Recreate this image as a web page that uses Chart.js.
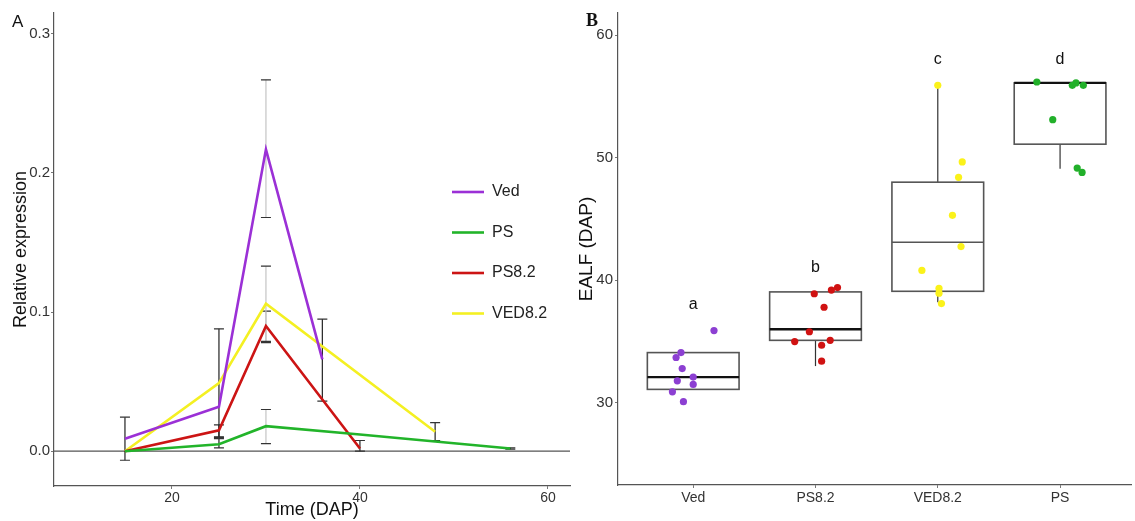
<!DOCTYPE html>
<html>
<head>
<meta charset="utf-8">
<script src="https://cdn.jsdelivr.net/npm/chart.js@4.4.1/dist/chart.umd.min.js"></script>
<style>
html, body { margin: 0; padding: 0; background: #fff; }
#wrap { position: relative; width: 1135px; height: 521px; font-family: "Liberation Sans", Arial, sans-serif; }
#boxA { position: absolute; left: 0; top: 0; width: 580px; height: 521px; }
#boxB { position: absolute; left: 575px; top: 0; width: 560px; height: 521px; }
</style>
</head>
<body>
<div id="wrap">
  <div id="boxA"><canvas id="chartA"></canvas></div>
  <div id="boxB"><canvas id="chartB"></canvas></div>
</div>
<script>
// ---- panel A: relative expression over time (DAP)
const vedDays = [15, 25, 30, 36]
const vedExpr = [0.009, 0.032, 0.217, 0.066]
const vedLow  = [-0.0065, null, 0.168, 0.036]
const vedHigh = [0.0245, null, 0.267, 0.095]

const psDays = [15, 25, 30, 40, 48, 56]
const psExpr = [0.000, 0.005, 0.018, 0.012, 0.007, 0.002]
const psLow  = [null, 0.0024, 0.0055, null, null, 0.0015]
const psHigh = [null, 0.009, 0.030, null, null, 0.0025]

const ps82Days = [15, 25, 30, 40]
const ps82Expr = [0.000, 0.015, 0.090, 0.002]
const ps82Low  = [null, 0.0103, 0.078, 0.000]
const ps82High = [null, 0.019, 0.1007, 0.0077]

const ved82Days = [15, 25, 30, 48]
const ved82Expr = [0.000, 0.049, 0.106, 0.014]
const ved82Low  = [null, 0.010, 0.079, 0.0077]
const ved82High = [null, 0.088, 0.133, 0.0206]

const timeTicks = [20, 40, 60]
const exprTicks = [0, 0.1, 0.2, 0.3]

// ---- panel B: EALF (DAP) per line
const lines = ['Ved', 'PS8.2', 'VED8.2', 'PS']
const boxLow    = [31.1, 33.0, 38.2, 49.1]   // whisker ends
const boxQ1     = [31.1, 35.1, 39.1, 51.1]
const boxMedian = [32.1, 36.0, 43.1, 56.1]
const boxQ3     = [34.1, 39.05, 48.0, 56.1]
const boxHigh   = [34.1, 39.05, 55.9, 56.1]
const sigLetters = ['a', 'b', 'c', 'd']
const sigY = [38.0, 41.0, 58.0, 58.0]

const vedEalf = [35.9, 34.1, 33.7, 32.8, 32.1, 31.8, 31.5, 30.9, 30.1]
const vedJit  = [0.17, -0.10, -0.14, -0.09, 0.0, -0.13, 0.0, -0.17, -0.08]
const ps82Ealf = [38.9, 39.2, 39.4, 37.8, 35.8, 35.0, 35.1, 34.7, 33.4]
const ps82Jit  = [-0.01, 0.13, 0.18, 0.07, -0.05, -0.17, 0.12, 0.05, 0.05]
const ved82Ealf = [55.9, 49.65, 48.4, 45.3, 42.75, 40.8, 39.35, 38.95, 38.1]
const ved82Jit  = [0.0, 0.20, 0.17, 0.12, 0.19, -0.13, 0.01, 0.01, 0.03]
const psEalf = [56.17, 55.9, 56.1, 55.9, 53.1, 49.15, 48.8]
const psJit  = [-0.19, 0.10, 0.13, 0.19, -0.06, 0.14, 0.18]

const ealfTicks = [30, 40, 50, 60]

// colours
const purple = '#9b30d6'
const green = '#22b42a'
const red = '#cc1414'
const yellow = '#f4f022'
const axisCol = '#555'
const font = '"Liberation Sans", Arial, sans-serif'

// tick marks only, no grid lines
const tickOnly = {display: true, drawOnChartArea: false, drawTicks: true, tickLength: 3, color: '#777'}

const seriesA = [
  {name: 'Ved', days: vedDays, y: vedExpr, lo: vedLow, hi: vedHigh, color: purple},
  {name: 'PS', days: psDays, y: psExpr, lo: psLow, hi: psHigh, color: green},
  {name: 'PS8.2', days: ps82Days, y: ps82Expr, lo: ps82Low, hi: ps82High, color: red},
  {name: 'VED8.2', days: ved82Days, y: ved82Expr, lo: ved82Low, hi: ved82High, color: yellow}
]
const greyBarDays = [30]

const extrasA = {
  id: 'extrasA',
  beforeDatasetsDraw(chart){
    const ctx = chart.ctx
    const xs = chart.scales.x, ys = chart.scales.y
    const area = chart.chartArea
    ctx.save()
    // zero line
    ctx.strokeStyle = axisCol
    ctx.lineWidth = 1.2
    ctx.beginPath()
    ctx.moveTo(area.left, ys.getPixelForValue(0))
    ctx.lineTo(area.right, ys.getPixelForValue(0))
    ctx.stroke()
    // error bars
    seriesA.forEach(s => {
      s.days.forEach((d, i) => {
        if(s.lo[i] == null) return
        const px = xs.getPixelForValue(d)
        const p1 = ys.getPixelForValue(s.lo[i])
        const p2 = ys.getPixelForValue(s.hi[i])
        ctx.strokeStyle = greyBarDays.includes(d) ? '#c4c4c4' : '#222'
        ctx.lineWidth = 1.2
        ctx.beginPath()
        ctx.moveTo(px, p1)
        ctx.lineTo(px, p2)
        ctx.stroke()
        ctx.strokeStyle = '#333'
        ctx.beginPath()
        ctx.moveTo(px - 5, p1); ctx.lineTo(px + 5, p1)
        ctx.moveTo(px - 5, p2); ctx.lineTo(px + 5, p2)
        ctx.stroke()
      })
    })
    ctx.restore()
  },
  afterDraw(chart){
    const ctx = chart.ctx
    ctx.save()
    // legend
    ctx.font = '16px ' + font
    ctx.textBaseline = 'middle'
    seriesA.forEach((s, i) => {
      const y = 192 + i * 40.5
      ctx.strokeStyle = s.color
      ctx.lineWidth = 2.6
      ctx.beginPath()
      ctx.moveTo(452, y)
      ctx.lineTo(484, y)
      ctx.stroke()
      ctx.fillStyle = '#222'
      ctx.fillText(s.name, 492, y)
    })
    // panel letter
    ctx.font = '17px ' + font
    ctx.fillStyle = '#111'
    ctx.fillText('A', 12, 22)
    ctx.restore()
  }
}

new Chart(document.getElementById('chartA'), {
  type: 'scatter',
  data: {
    datasets: seriesA.map(s => ({
      label: s.name,
      data: s.days.map((d, i) => ({x: d, y: s.y[i]})),
      showLine: true,
      borderColor: s.color,
      backgroundColor: s.color,
      borderWidth: 2.6,
      pointRadius: 0,
      tension: 0
    }))
  },
  options: {
    responsive: true,
    maintainAspectRatio: false,
    animation: false,
    layout: {padding: {top: 13, right: 10, left: 0, bottom: 0}},
    plugins: {legend: {display: false}, tooltip: {enabled: false}},
    scales: {
      x: {
        type: 'linear', min: 7.45, max: 62.35,
        afterBuildTicks: s => { s.ticks = timeTicks.map(v => ({value: v})) },
        afterFit: s => { s.height = 35 },
        grid: tickOnly,
        border: {color: axisCol, width: 1.2},
        ticks: {color: '#333', font: {size: 14, family: font}, padding: 1},
        title: {display: true, text: 'Time (DAP)', color: '#111', font: {size: 18, family: font}, padding: 0}
      },
      y: {
        min: -0.025, max: 0.315,
        afterBuildTicks: s => { s.ticks = exprTicks.map(v => ({value: v})) },
        afterFit: s => { s.width = 54 },
        grid: tickOnly,
        border: {color: axisCol, width: 1.2},
        ticks: {color: '#333', font: {size: 15, family: font}, padding: 1, callback: v => v.toFixed(1)},
        title: {display: true, text: 'Relative expression', color: '#111', font: {size: 18, family: font}, padding: {top: 10, bottom: 0}}
      }
    }
  },
  plugins: [extrasA]
})

// ---- panel B
const pointsB = [
  {y: vedEalf, jit: vedJit, color: '#8c3fd2'},
  {y: ps82Ealf, jit: ps82Jit, color: '#d01212'},
  {y: ved82Ealf, jit: ved82Jit, color: '#fbf21a'},
  {y: psEalf, jit: psJit, color: '#22b02a'}
]
const thickMedian = [true, true, false, true]

const boxesB = {
  id: 'boxesB',
  beforeDatasetsDraw(chart){
    const ctx = chart.ctx
    const xs = chart.scales.x, ys = chart.scales.y
    ctx.save()
    lines.forEach((name, i) => {
      const xl = xs.getPixelForValue(i - 0.375)
      const xr = xs.getPixelForValue(i + 0.375)
      const xc = xs.getPixelForValue(i)
      const q1 = ys.getPixelForValue(boxQ1[i])
      const q3 = ys.getPixelForValue(boxQ3[i])
      // whiskers
      ctx.strokeStyle = '#333'
      ctx.lineWidth = 1.2
      ctx.beginPath()
      ctx.moveTo(xc, q1); ctx.lineTo(xc, ys.getPixelForValue(boxLow[i]))
      ctx.moveTo(xc, q3); ctx.lineTo(xc, ys.getPixelForValue(boxHigh[i]))
      ctx.stroke()
      // box
      ctx.fillStyle = '#fff'
      ctx.fillRect(xl, q3, xr - xl, q1 - q3)
      ctx.strokeStyle = '#555'
      ctx.lineWidth = 1.6
      ctx.strokeRect(xl, q3, xr - xl, q1 - q3)
      // median
      const m = ys.getPixelForValue(boxMedian[i])
      ctx.strokeStyle = thickMedian[i] ? '#111' : '#555'
      ctx.lineWidth = thickMedian[i] ? 2.4 : 1.6
      ctx.beginPath()
      ctx.moveTo(xl, m); ctx.lineTo(xr, m)
      ctx.stroke()
    })
    ctx.restore()
  },
  afterDraw(chart){
    const ctx = chart.ctx
    const xs = chart.scales.x, ys = chart.scales.y
    ctx.save()
    ctx.fillStyle = '#111'
    ctx.font = '16px ' + font
    ctx.textAlign = 'center'
    ctx.textBaseline = 'middle'
    sigLetters.forEach((t, i) => {
      ctx.fillText(t, xs.getPixelForValue(i), ys.getPixelForValue(sigY[i]))
    })
    ctx.textAlign = 'left'
    ctx.font = 'bold 18px "Liberation Serif", serif'
    ctx.fillText('B', 11, 21)
    ctx.restore()
  }
}

new Chart(document.getElementById('chartB'), {
  type: 'scatter',
  data: {
    datasets: pointsB.map((p, i) => ({
      label: lines[i],
      data: p.y.map((v, j) => ({x: i + p.jit[j], y: v})),
      pointRadius: 3.6,
      pointBorderWidth: 0,
      backgroundColor: p.color,
      borderColor: p.color
    }))
  },
  options: {
    responsive: true,
    maintainAspectRatio: false,
    animation: false,
    layout: {padding: {top: 13, right: 0, left: 0, bottom: 0}},
    plugins: {legend: {display: false}, tooltip: {enabled: false}},
    scales: {
      x: {
        type: 'linear', min: -0.615, max: 3.58,
        afterBuildTicks: s => { s.ticks = lines.map((n, i) => ({value: i})) },
        afterFit: s => { s.height = 36 },
        grid: tickOnly,
        border: {color: axisCol, width: 1.2},
        ticks: {color: '#333', font: {size: 14, family: font}, padding: 2, callback: v => lines[v]}
      },
      y: {
        min: 23.3, max: 61.8,
        afterBuildTicks: s => { s.ticks = ealfTicks.map(v => ({value: v})) },
        afterFit: s => { s.width = 43 },
        grid: tickOnly,
        border: {color: axisCol, width: 1.2},
        ticks: {color: '#333', font: {size: 15, family: font}, padding: 2},
        title: {display: true, text: 'EALF (DAP)', color: '#111', font: {size: 19, family: font}, padding: {top: 0, bottom: 0}}
      }
    }
  },
  plugins: [boxesB]
})
</script>
</body>
</html>
